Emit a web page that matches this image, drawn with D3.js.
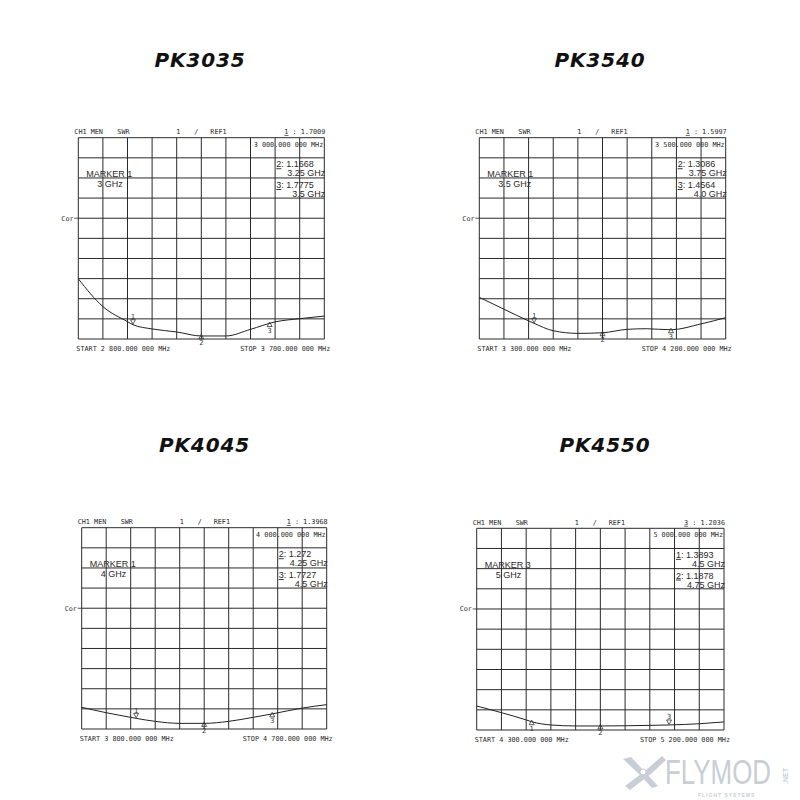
<!DOCTYPE html>
<html><head><meta charset="utf-8">
<script src="https://cdn.jsdelivr.net/npm/d3@7"></script>
<style>body{margin:0;background:#fff}</style>
</head><body><svg id="c" width="800" height="800"></svg>
<script>
// ---------- data ----------
const titles = ["PK3035", "PK3540", "PK4045", "PK4550"];
const startGHz = [2.8, 3.3, 3.8, 4.3];
const stopGHz = [3.7, 4.2, 4.7, 5.2];
const startTexts = ["START 2 800.000 000 MHz", "START 3 300.000 000 MHz", "START 3 800.000 000 MHz", "START 4 300.000 000 MHz"];
const stopTexts = ["STOP 3 700.000 000 MHz", "STOP 4 200.000 000 MHz", "STOP 4 700.000 000 MHz", "STOP 5 200.000 000 MHz"];
const centerTexts = ["3 000.000 000 MHz", "3 500.000 000 MHz", "4 000.000 000 MHz", "5 000.000 000 MHz"];

const freq3035 = [2.8, 2.89, 2.98, 3.0, 3.07, 3.16, 3.25, 3.34, 3.43, 3.52, 3.61, 3.7];
const swr3035  = [3.99, 2.61, 1.86, 1.71, 1.50, 1.35, 1.15, 1.15, 1.48, 1.85, 2.01, 2.14];
const freq3540 = [3.3, 3.39, 3.48, 3.5, 3.57, 3.66, 3.75, 3.84, 3.91, 4.0, 4.11, 4.2];
const swr3540  = [3.07, 2.48, 1.90, 1.78, 1.41, 1.28, 1.31, 1.48, 1.51, 1.46, 1.75, 2.06];
const freq4045 = [3.8, 3.89, 3.98, 4.0, 4.07, 4.16, 4.25, 4.34, 4.43, 4.5, 4.61, 4.7];
const swr4045  = [2.08, 1.81, 1.58, 1.53, 1.38, 1.28, 1.28, 1.38, 1.58, 1.75, 2.04, 2.21];
const freq4550 = [4.3, 4.39, 4.48, 4.5, 4.57, 4.66, 4.75, 4.84, 4.93, 5.0, 5.11, 5.2];
const swr4550  = [2.19, 1.86, 1.50, 1.41, 1.25, 1.20, 1.20, 1.21, 1.23, 1.25, 1.31, 1.40];

const markerFreq3035 = [3.0, 3.25, 3.5];
const markerVal3035 = ["1.7009", "1.1668", "1.7775"];
const markerLbl3035 = ["3 GHz", "3.25 GHz", "3.5 GHz"];
const markerFreq3540 = [3.5, 3.75, 4.0];
const markerVal3540 = ["1.5997", "1.3086", "1.4564"];
const markerLbl3540 = ["3.5 GHz", "3.75 GHz", "4.0 GHz"];
const markerFreq4045 = [4.0, 4.25, 4.5];
const markerVal4045 = ["1.3968", "1.272", "1.7727"];
const markerLbl4045 = ["4 GHz", "4.25 GHz", "4.5 GHz"];
const markerFreq4550 = [4.5, 4.75, 5.0];
const markerVal4550 = ["1.3893", "1.1878", "1.2036"];
const markerLbl4550 = ["4.5 GHz", "4.75 GHz", "5 GHz"];
const activeMarker = [1, 1, 1, 3];

const swrDomain = [1, 11]; // 1 SWR unit per division

// ---------- layout ----------
const panels = [
  {L: 78.3, T: 137.7, R: 324.3, B: 339, tx: 200, ty: 66.7,
   f: freq3035, s: swr3035, mf: markerFreq3035, mv: markerVal3035, ml: markerLbl3035},
  {L: 479.3, T: 137.7, R: 725.7, B: 339, tx: 600, ty: 66.7,
   f: freq3540, s: swr3540, mf: markerFreq3540, mv: markerVal3540, ml: markerLbl3540},
  {L: 81.7, T: 527.7, R: 326.7, B: 729, tx: 204.5, ty: 452.3,
   f: freq4045, s: swr4045, mf: markerFreq4045, mv: markerVal4045, ml: markerLbl4045},
  {L: 476.7, T: 528.3, R: 724, B: 730, tx: 605, ty: 452.3,
   f: freq4550, s: swr4550, mf: markerFreq4550, mv: markerVal4550, ml: markerLbl4550}
];

const svg = d3.select("#c");
const ink = "#2a2a2a";
const mono = "'DejaVu Sans Mono', monospace";
const sans = "'Liberation Sans', Arial, sans-serif";

// watermark
const wm = svg.append("g").attr("fill", "#c9cdd6").attr("stroke", "none");
wm.append("path").attr("d", "M623,759 L631,757 L645,772 L658,786 L652,788 L640,775 Z");
wm.append("path").attr("d", "M662,756 L666,760 L652,773 L630,790 L625,786 L645,771 Z");
wm.append("circle").attr("cx", 643).attr("cy", 772).attr("r", 3).attr("fill", "#fff").attr("stroke", "#c9cdd6");
wm.append("text").attr("transform", "translate(665,784) scale(0.72,1)").attr("font-family", sans)
  .attr("font-size", 36).text("FLYMOD");
wm.append("text").attr("transform", "translate(788,784) rotate(-90)").attr("font-family", sans)
  .attr("font-size", 7).attr("font-weight", "bold").text(".NET");
wm.append("text").attr("x", 698).attr("y", 797).attr("font-family", sans).attr("font-size", 5)
  .attr("letter-spacing", 1).attr("font-weight", "bold").text("FLIGHT SYSTEMS");

panels.forEach((p, i) => {
  const g = svg.append("g");
  const x = d3.scaleLinear().domain([startGHz[i], stopGHz[i]]).range([p.L, p.R]);
  const y = d3.scaleLinear().domain(swrDomain).range([p.B, p.T]);

  // title
  g.append("text").attr("x", p.tx).attr("y", p.ty).attr("text-anchor", "middle")
    .attr("font-family", "'DejaVu Sans', sans-serif").attr("font-weight", "bold")
    .attr("font-style", "italic").attr("font-size", 20).attr("letter-spacing", 0.9)
    .attr("fill", "#111").text(titles[i]);

  // grid
  const xt = d3.range(11).map(k => startGHz[i] + k * (stopGHz[i] - startGHz[i]) / 10);
  const yt = d3.range(11).map(k => swrDomain[0] + k);
  g.selectAll(".vx").data(xt).join("line")
    .attr("x1", d => x(d)).attr("x2", d => x(d)).attr("y1", p.T).attr("y2", p.B)
    .attr("stroke", ink).attr("stroke-width", 1);
  g.selectAll(".hy").data(yt).join("line")
    .attr("y1", d => y(d)).attr("y2", d => y(d)).attr("x1", p.L).attr("x2", p.R)
    .attr("stroke", ink).attr("stroke-width", 1);

  // curve
  const pts = p.f.map((f, k) => [f, p.s[k]]);
  g.append("path").datum(pts)
    .attr("d", d3.line().x(d => x(d[0])).y(d => y(d[1])).curve(d3.curveMonotoneX))
    .attr("fill", "none").attr("stroke", "#222").attr("stroke-width", 1);

  const interp = f => {
    const j = Math.min(Math.max(d3.bisectLeft(p.f, f), 1), p.f.length - 1);
    const t = (f - p.f[j - 1]) / (p.f[j] - p.f[j - 1]);
    return p.s[j - 1] + t * (p.s[j] - p.s[j - 1]);
  };

  // markers
  const act = activeMarker[i];
  p.mf.forEach((mf, k) => {
    const mx = x(mf), my = y(interp(mf));
    const num = String(k + 1);
    const tg = g.append("g").attr("fill", "none").attr("stroke", "#333").attr("stroke-width", 0.8);
    if (k + 1 === act) {
      tg.append("path").attr("d", `M${mx - 2.5},${my - 5} L${mx + 2.5},${my - 5} L${mx},${my - 0.5} Z`);
      g.append("text").attr("x", mx).attr("y", my - 5.5).attr("text-anchor", "middle")
        .attr("font-family", mono).attr("font-size", 7).attr("fill", "#333").text(num);
    } else {
      tg.append("path").attr("d", `M${mx - 2.5},${my + 3} L${mx + 2.5},${my + 3} L${mx},${my - 1.5} Z`);
      g.append("text").attr("x", mx).attr("y", my + 9.5).attr("text-anchor", "middle")
        .attr("font-family", mono).attr("font-size", 7).attr("fill", "#333").text(num);
    }
  });

  // header
  const hy = p.T - 3.5;
  const hdr = (tx, t, anchor) => g.append("text").attr("x", tx).attr("y", hy)
    .attr("text-anchor", anchor || "start").attr("font-family", mono).attr("font-size", 6.8)
    .attr("fill", ink).text(t);
  hdr(p.L - 4, "CH1 MEN");
  hdr(p.L + 39, "SWR");
  hdr(p.L + 98, "1");
  hdr(p.L + 116, "/");
  hdr(p.L + 132, "REF1");
  const ht = g.append("text").attr("x", p.R + 1).attr("y", hy).attr("text-anchor", "end")
    .attr("font-family", mono).attr("font-size", 6.8).attr("fill", ink);
  ht.append("tspan").attr("text-decoration", "underline").text(String(act));
  ht.append("tspan").text(" : " + p.mv[act - 1]);

  // center frequency
  g.append("text").attr("x", p.R - 1).attr("y", p.T + 8.8).attr("text-anchor", "end")
    .attr("font-family", mono).attr("font-size", 6.8).attr("fill", ink).text(centerTexts[i]);

  // readouts of the other markers
  const others = [0, 1, 2].filter(k => k + 1 !== act);
  others.forEach((k, r) => {
    const by = p.T + 29.6 + r * 20.7;
    const t1 = g.append("text").attr("x", p.R - 48).attr("y", by)
      .attr("font-family", sans).attr("font-size", 9).attr("fill", ink);
    t1.append("tspan").attr("text-decoration", "underline").text(String(k + 1));
    t1.append("tspan").text(": " + p.mv[k]);
    g.append("text").attr("x", p.R + 1).attr("y", by + 9).attr("text-anchor", "end")
      .attr("font-family", sans).attr("font-size", 9).attr("fill", ink).text(p.ml[k]);
  });

  // active marker block
  g.append("text").attr("x", p.L + 8).attr("y", p.T + 39.6)
    .attr("font-family", sans).attr("font-size", 9).attr("fill", ink).text("MARKER " + act);
  g.append("text").attr("x", p.L + 19).attr("y", p.T + 49.3)
    .attr("font-family", sans).attr("font-size", 9).attr("fill", ink).text(p.ml[act - 1]);

  // Cor
  const cy = y(swrDomain[0] + 6);
  g.append("text").attr("x", p.L - 17).attr("y", cy + 2.3)
    .attr("font-family", mono).attr("font-size", 6.8).attr("fill", ink).text("Cor");
  g.append("line").attr("x1", p.L - 4).attr("x2", p.L).attr("y1", cy).attr("y2", cy)
    .attr("stroke", ink).attr("stroke-width", 0.8);

  // start / stop
  g.append("text").attr("x", p.L - 2).attr("y", p.B + 12.2)
    .attr("font-family", mono).attr("font-size", 6.8).attr("fill", ink).text(startTexts[i]);
  g.append("text").attr("x", p.R + 6).attr("y", p.B + 12.2).attr("text-anchor", "end")
    .attr("font-family", mono).attr("font-size", 6.8).attr("fill", ink).text(stopTexts[i]);
});
</script></body></html>
